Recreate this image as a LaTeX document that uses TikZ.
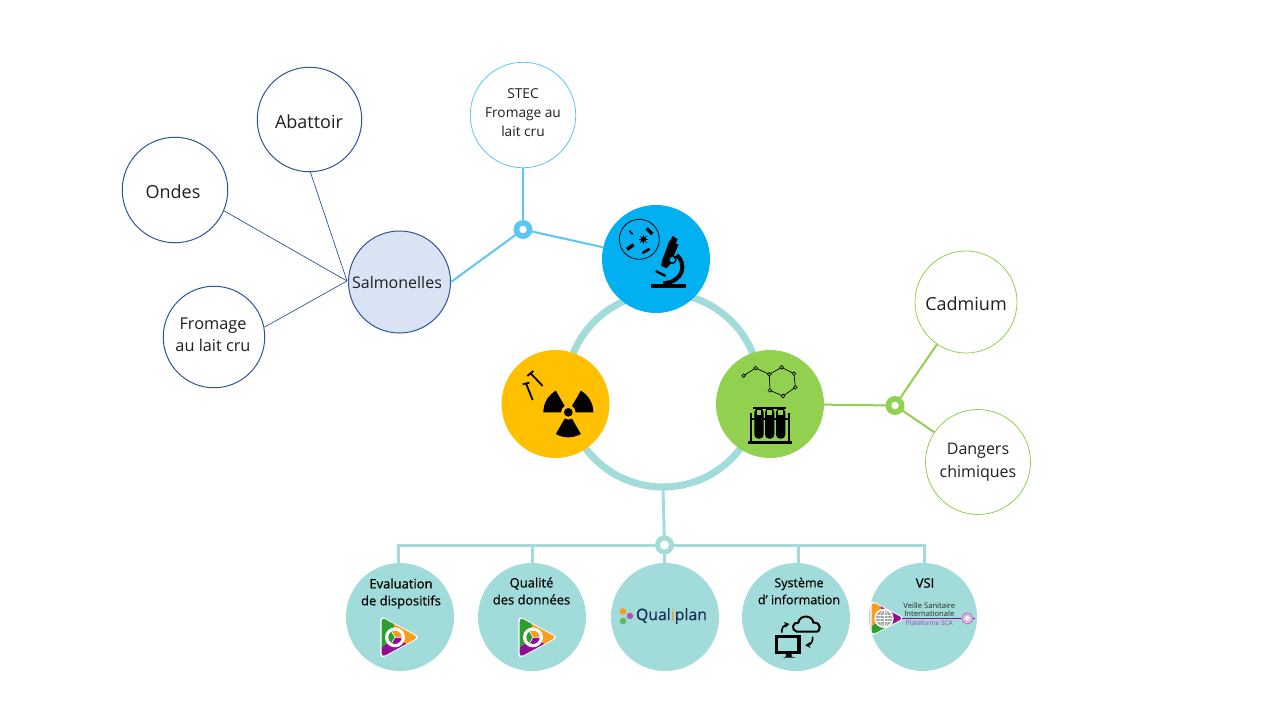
\documentclass[tikz,border=0pt]{standalone}
\usepackage{fontspec}
\setmainfont{Open Sans}
\newfontfamily\semib[FakeBold=0.4]{Open Sans}
\usetikzlibrary{calc,arrows.meta}
\definecolor{teal}{HTML}{A1DBDA}
\definecolor{mblue}{HTML}{00B0F0}
\definecolor{lblue}{HTML}{5EC6F4}
\definecolor{myel}{HTML}{FFC000}
\definecolor{mgreen}{HTML}{92D050}
\definecolor{navy}{HTML}{2F5597}
\definecolor{salfill}{HTML}{DAE3F3}
\definecolor{lgorange}{HTML}{F99D1C}
\definecolor{lggreen}{HTML}{2E9E2E}
\definecolor{lgpurple}{HTML}{8E0F94}
\tikzset{
 disc/.style={circle,inner sep=0pt,minimum size=#1},
 navycirc/.style={disc=#1,draw=navy,line width=1pt,fill=white},
 greencirc/.style={disc=#1,draw=mgreen,line width=0.8pt,fill=white},
 hub/.style={disc=108pt},
 tealdisc/.style={disc=108pt,fill=teal},
 junc/.style={circle,inner sep=0pt,minimum size=#1,fill=white},
 txt/.style 2 args={inner sep=0pt,align=center,text=black!88,font=\fontsize{#1}{#2}\selectfont},
 caption/.style={inner sep=0pt,align=center,font=\semib\fontsize{13}{17}\selectfont,text=black},
 thin link/.style={draw=navy,line width=0.7pt},
 teal link/.style={draw=teal,line width=3pt},
 blue link/.style={draw=lblue,line width=2pt},
 green link/.style={draw=mgreen,line width=2pt},
}
\newcommand{\tripart}[7]{%
 \begin{scope}
  \clip[rounded corners=4pt] #1;
  \fill[#2] (0,0) -- (#5:200) arc[start angle=#5,end angle=#6,radius=200] -- cycle;
  \fill[#3] (0,0) -- (#6:200) arc[start angle=#6,end angle=#7,radius=200] -- cycle;
  \pgfmathsetmacro{\endang}{#5+360}
  \fill[#4] (0,0) -- (#7:200) arc[start angle=#7,end angle=\endang,radius=200] -- cycle;
 \end{scope}}
\newcommand{\playlogo}[2]{%
 \begin{scope}[shift={(#1,#2)},scale=0.3333]
  \fill[white,rounded corners=4.5pt] (-44,-65) -- (76,0) -- (-44,65) -- cycle;
  \tripart{(-40,-60) -- (70,0) -- (-40,60) -- cycle}{lgorange}{lgpurple}{lggreen}{-96}{30}{143}
  \fill[white] (0,0) circle[radius=30];
  \fill[lggreen] (0,0) -- (120:20) arc[start angle=120,end angle=240,radius=20] -- cycle;
  \fill[lgorange] (0,0) -- (-120:20) arc[start angle=-120,end angle=0,radius=20] -- cycle;
  \fill[lgpurple] (0,0) -- (0:20) arc[start angle=0,end angle=120,radius=20] -- cycle;
  \draw[white,line width=0.6pt] (0,0) -- (120:20) (0,0) -- (-120:20) (0,0) -- (0:20);
 \end{scope}}
\begin{document}
\begin{tikzpicture}[x=1pt,y=1pt,yscale=-1]
\useasboundingbox (0,0) rectangle (1280,720);
\fill[white] (0,0) rectangle (1280,720);
% centre ring
\node[circle,inner sep=0pt,minimum size=194pt,draw=teal,line width=7pt] (ring) at (663,390) {};
% nodes
\node[hub,fill=mblue] (micro) at (656,259) {};
\node[hub,fill=myel] (radio) at (555.5,404) {};
\node[hub,fill=mgreen] (chem) at (770,404) {};
\node[navycirc=105.5pt] (ondes) at (175,190) {};
\node[navycirc=104.5pt] (abat) at (309.5,119.5) {};
\node[navycirc=101.5pt] (fromage) at (214,337) {};
\node[navycirc=102pt,fill=salfill] (sal) at (399.5,282) {};
\node[disc=105.5pt,draw=lblue,line width=0.8pt,fill=white] (stec) at (523,115) {};
\node[greencirc=102pt] (cad) at (966,302) {};
\node[greencirc=105pt] (dang) at (978,462) {};
\node[tealdisc] (b1) at (400,617) {};
\node[tealdisc] (b2) at (532,617) {};
\node[tealdisc] (b3) at (665,617) {};
\node[tealdisc] (b4) at (796,617) {};
\node[tealdisc] (b5) at (923,617) {};
% circle texts
\node[txt={18}{22}] (tondes) at (173,192) {Ondes};
\node[txt={18}{22}] (tabat) at (309,122) {Abattoir};
\node[txt={16.3}{22}] (tfrom) at (213,334.5) {Fromage\\au lait cru};
\node[txt={16}{20}] (tsal) at (397,282.5) {Salmonelles};
\node[txt={13.7}{19}] (tstec) at (523,113) {STEC\\Fromage au\\lait cru};
\node[txt={18}{22}] (tcad) at (966,304) {Cadmium};
\node[txt={16}{23}] (tdang) at (978,462) {Dangers\\chimiques};
% junctions
\coordinate (jb) at (523,229.5);
\coordinate (jg) at (895,405.5);
\coordinate (jt) at (664.5,545);
\coordinate (ringbot) at (663,490);
\coordinate (salhub) at (347,281);
\coordinate (bus1) at (398,545);
\coordinate (bus2) at (532,545);
\coordinate (bus4) at (798,545);
\coordinate (bus5) at (924,545);
% connectors
\draw[thin link] (ondes.-23) -- (salhub);
\draw[thin link] (abat.-89) -- (salhub);
\draw[thin link] (fromage.11) -- (salhub);
\draw[blue link] (sal.east) -- (jb);
\draw[blue link] (stec) -- (jb);
\draw[blue link] (jb) -- (micro);
\draw[green link] (chem) -- (jg);
\draw[green link] (jg) -- (cad);
\draw[green link] (jg) -- (dang);
\draw[teal link] (ringbot) -- (jt);
\draw[teal link] (jt) -- (b3);
\draw[teal link] ([xshift=-1.5pt]bus1) -- (jt) -- ([xshift=1.5pt]bus5);
\draw[teal link] (bus1) -- (bus1|-b1.north);
\draw[teal link] (bus2) -- (bus2|-b2.north);
\draw[teal link] (bus4) -- (bus4|-b4.north);
\draw[teal link] (bus5) -- (bus5|-b5.north);
\fill[lblue] (jb) circle[radius=9.5];
\node[junc=7.5pt] (jbn) at (jb) {};
\fill[mgreen] (jg) circle[radius=9.5];
\node[junc=7.5pt] (jgn) at (jg) {};
\fill[teal] (jt) circle[radius=9.5];
\node[junc=9pt] (jtn) at (jt) {};
% microscope icon
\begin{scope}[shift={(595,200)},scale=0.3333]
 \draw[line width=0.8pt] (133,118) circle[radius=60];
 \draw[line width=1.6pt] (103,92) -- (113,103);
 \draw[line width=3.4pt] (155,85) -- (172,102);
 \draw[line width=3.4pt] (96,148) -- (116,134);
 \draw[line width=2.6pt,line cap=round] (144,158) -- (162,148);
 \fill (145,118) circle[radius=8];
 \foreach \a in {0,45,...,315} \draw[line width=0.7pt] (145,118) -- ++(\a:14);
 \fill (167,252) rectangle (272,265);
 \fill (233,108) -- (248,118) -- (242,130) -- (250,134) -- (228,190) -- (215,205) -- (198,197) -- (202,180) -- (222,125) -- (227,120) -- cycle;
 \draw[line width=4pt] (245,165) .. controls (275,190) and (268,245) .. (205,250);
 \draw[line width=2.2pt] (182,213) -- (212,228);
 \fill[black] (232,179) circle[radius=13];
 \fill[mblue] (232,179) circle[radius=8];
\end{scope}
% radiation icon
\begin{scope}[shift={(495,345)},scale=0.3333]
 \fill (220,202) circle[radius=13];
 \foreach \a in {0,120,240} {
  \fill[rotate around={\a:(220,202)}] ($(220,202)+(0:22)$) -- ($(220,202)+(0:75)$) arc[start angle=0,end angle=-60,radius=75] -- ($(220,202)+(-60:22)$) arc[start angle=-60,end angle=0,radius=22] -- cycle;
 }
 \draw[line width=1.8pt] (83,118) -- (103,113);
 \draw[line width=1.8pt] (93,115) -- (113,165);
 \draw[line width=1.8pt] (97,93) -- (115,78);
 \draw[line width=1.8pt] (107,85) -- (143,123);
\end{scope}
% chemistry icon
\begin{scope}[shift={(710,345)},scale=0.3333]
 \draw[line width=0.7pt] (101,92) -- (137,69) -- (178,88) -- (215,67) -- (252,86) -- (256,127) -- (219,153) -- (180,136) -- (178,88);
 \foreach \p in {(101,92),(137,69),(178,88),(215,67),(252,86),(256,127),(219,153),(180,136)}
  \draw[line width=0.7pt,fill=mgreen] \p circle[radius=5.5];
 \fill (114,289) rectangle (246,296);
 \fill (119,205) rectangle (127,290);
 \fill (233,205) rectangle (241,290);
 \fill (119,218) rectangle (241,226);
 \foreach \x in {147,179,212} {
  \fill (\x-17,187) rectangle (\x+17,192);
  \fill[rounded corners=4pt] (\x-14,190) -- (\x+14,190) -- (\x+14,281) -- (\x-14,281) -- cycle;
  \fill[mgreen] (\x-7,194) rectangle (\x+7,210);
 }
\end{scope}
% captions
\node[caption] (c1) at (401,593.5) {Evaluation\\de dispositifs};
\node[caption] (c2) at (531.5,591) {Qualité\\des données};
\node[caption,font=\semib\fontsize{12.5}{17}\selectfont] (c4) at (799,591) {Système\\d’ information};
\node[caption] (c5) at (925,583) {VSI};
\playlogo{395}{637.3}
\playlogo{533}{637.3}
% qualiplan
\fill[lgorange] (623,611.5) circle[radius=3.3];
\fill[lgpurple!70!white] (630,616) circle[radius=3.3];
\fill[lggreen!75!white] (623,621) circle[radius=3.3];
\node[inner sep=0pt,font=\semib\fontsize{15.8}{18}\selectfont,text=navy!55!black] (qp) at (671.5,616) {Qual{\color{lgorange}i}plan};
% cloud and monitor
\begin{scope}[shift={(660,540)},scale=0.3333]
 \draw[line width=2pt] (410,275) .. controls (392,270) and (398,245) .. (415,248) .. controls (420,222) and (458,225) .. (460,248) .. controls (485,245) and (485,278) .. (465,275) -- cycle;
 \draw[line width=3.5pt] (350,290) rectangle (417,337);
 \fill (395,338) -- (395,350) -- (408,353) -- (368,353) -- (378,350) -- (378,338) -- cycle;
 \draw[line width=1.6pt,-{Stealth[length=5pt,width=6pt]}] (365,278) .. controls (365,262) and (372,255) .. (388,252);
 \draw[line width=1.6pt,-{Stealth[length=5pt,width=6pt]}] (458,290) .. controls (460,305) and (450,315) .. (436,316);
\end{scope}
% VSI logo
\begin{scope}[shift={(884,618.3)},scale=0.3333]
 \fill[white,rounded corners=4.5pt] (-41,-55) -- (64,0) -- (-41,55) -- cycle;
 \tripart{(-37,-50) -- (58,0) -- (-37,50) -- cycle}{lgpurple}{lggreen}{lgorange}{-107}{28}{148}
 \fill[white] (0,0) circle[radius=29];
 \fill[gray!70] (0,0) circle[radius=24];
 \draw[white,line width=0.5pt] (0,-24) -- (0,24) (-22,-10) -- (22,-10) (-22,10) -- (22,10) (-24,0) -- (24,0);
 \draw[white,line width=0.5pt] (0,0) circle[x radius=12,y radius=24];
\end{scope}
\begin{scope}[shift={(660,540)},scale=0.3333]
 \draw[lgpurple,line width=0.8pt] (726,235) -- (945,235);
 \fill[lgpurple!30!white] (922,235) circle[radius=17];
 \draw[lgpurple!70,line width=0.5pt] (922,235) circle[radius=17];
 \fill[white] (922,235) circle[radius=7];
 \node[inner sep=0pt,align=center,font=\fontsize{7.6}{7.7}\selectfont,text=black!85] (vs) at (808,208.5) {Veille Sanitaire\\Internationale};
 \node[inner sep=0pt,font=\fontsize{6.5}{7}\selectfont,text=lgpurple!80] (pf) at (808,250) {Plateforme SCA};
\end{scope}
\end{tikzpicture}
\end{document}
